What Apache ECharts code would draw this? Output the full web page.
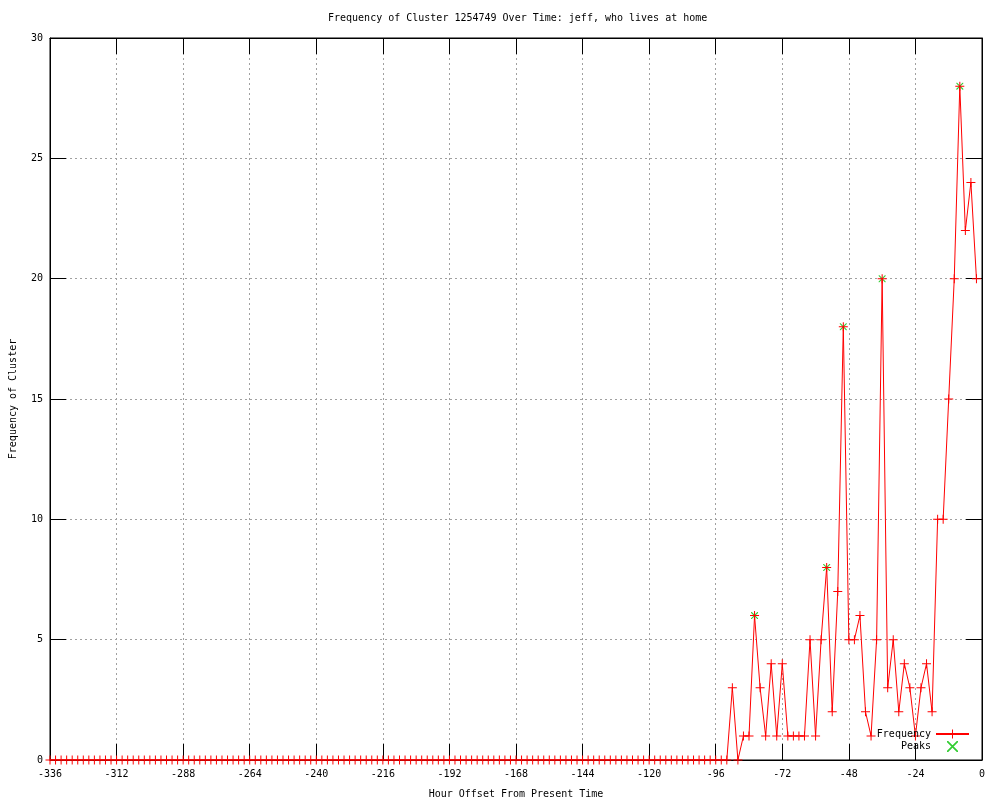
<!DOCTYPE html>
<html>
<head>
<meta charset="utf-8">
<script src="https://cdn.jsdelivr.net/npm/echarts@6/dist/echarts.min.js"></script>
<style>html,body{margin:0;padding:0;background:#fff}#c{width:1000px;height:800px}</style>
</head>
<body>
<div id="c"></div>
<script>
const titleText = 'Frequency of Cluster 1254749 Over Time: jeff, who lives at home';
const xName = 'Hour Offset From Present Time';
const yName = 'Frequency of Cluster';

const hours = [
 -336,-334,-332,-330,-328,-326,-324,-322,-320,-318,-316,-314,-312,-310,-308,-306,-304,-302,-300,-298,
 -296,-294,-292,-290,-288,-286,-284,-282,-280,-278,-276,-274,-272,-270,-268,-266,-264,-262,-260,-258,
 -256,-254,-252,-250,-248,-246,-244,-242,-240,-238,-236,-234,-232,-230,-228,-226,-224,-222,-220,-218,
 -216,-214,-212,-210,-208,-206,-204,-202,-200,-198,-196,-194,-192,-190,-188,-186,-184,-182,-180,-178,
 -176,-174,-172,-170,-168,-166,-164,-162,-160,-158,-156,-154,-152,-150,-148,-146,-144,-142,-140,-138,
 -136,-134,-132,-130,-128,-126,-124,-122,-120,-118,-116,-114,-112,-110,-108,-106,-104,-102,-100,-98,
 -96,-94,-92,-90,-88,-86,-84,-82,-80,-78,-76,-74,-72,-70,-68,-66,-64,-62,-60,-58,
 -56,-54,-52,-50,-48,-46,-44,-42,-40,-38,-36,-34,-32,-30,-28,-26,-24,-22,-20,-18,
 -16,-14,-12,-10,-8,-6,-4,-2
];
const frequency = [
 0,0,0,0,0,0,0,0,0,0,0,0,0,0,0,0,0,0,0,0,
 0,0,0,0,0,0,0,0,0,0,0,0,0,0,0,0,0,0,0,0,
 0,0,0,0,0,0,0,0,0,0,0,0,0,0,0,0,0,0,0,0,
 0,0,0,0,0,0,0,0,0,0,0,0,0,0,0,0,0,0,0,0,
 0,0,0,0,0,0,0,0,0,0,0,0,0,0,0,0,0,0,0,0,
 0,0,0,0,0,0,0,0,0,0,0,0,0,0,0,0,0,0,0,0,
 0,0,0,3,0,1,1,6,3,1,4,1,4,1,1,1,1,5,1,5,
 8,2,7,18,5,5,6,2,1,5,20,3,5,2,4,3,1,3,4,2,
 10,10,15,20,28,22,24,20
];
const peakHours = [-82, -56, -50, -36, -8];
const peakValues = [6, 8, 18, 20, 28];

const FONT = 'DejaVu Sans Mono';
const plusPath = 'path://M0,4h9v1h-9z M4,0h1v9h-1z';
const crossPath = 'path://M0,0L1,0L9,8L9,9L8,9L0,1Z M8,0L9,0L9,1L1,9L0,9L0,8Z';

function ticks() {
  return {show: true, inside: true, length: 16, lineStyle: {color: '#000', width: 1}};
}

const chart = echarts.init(document.getElementById('c'), null, {renderer: 'canvas'});
chart.setOption({
  animation: false,
  backgroundColor: '#fff',
  title: {
    text: titleText, left: 328, top: 13, padding: 0,
    textStyle: {fontFamily: FONT, fontSize: 10, fontWeight: 'normal', color: '#000'}
  },
  grid: {left: 50, right: 18, top: 38, bottom: 40, show: true, borderColor: '#000', borderWidth: 1,
         containLabel: false, outerBoundsMode: 'none'},
  legend: {
    orient: 'vertical', align: 'right', right: 30, bottom: 48, padding: 0,
    itemWidth: 33, itemHeight: 11, itemGap: 2,
    textStyle: {fontFamily: FONT, fontSize: 10, color: '#000'},
    data: ['Frequency', 'Peaks']
  },
  xAxis: [{
    type: 'value', position: 'bottom', min: -336, max: 0, interval: 24,
    name: xName, nameLocation: 'middle', nameGap: 29,
    nameTextStyle: {fontFamily: FONT, fontSize: 10, color: '#000'},
    axisLine: {show: true, onZero: false, lineStyle: {color: '#000'}},
    axisTick: ticks(),
    axisLabel: {fontFamily: FONT, fontSize: 10, color: '#000', margin: 9},
    splitLine: {show: true, lineStyle: {color: '#a0a0a0', type: [2, 3], width: 1}}
  }, {
    type: 'value', position: 'top', min: -336, max: 0, interval: 24,
    axisLine: {show: true, onZero: false, lineStyle: {color: '#000'}},
    axisTick: ticks(), axisLabel: {show: false}, splitLine: {show: false}
  }],
  yAxis: [{
    type: 'value', position: 'left', min: 0, max: 30, interval: 5,
    name: yName, nameLocation: 'middle', nameGap: 32,
    nameTextStyle: {fontFamily: FONT, fontSize: 10, color: '#000'},
    axisLine: {show: true, onZero: false, lineStyle: {color: '#000'}},
    axisTick: ticks(),
    axisLabel: {fontFamily: FONT, fontSize: 10, color: '#000', margin: 7},
    splitLine: {show: true, lineStyle: {color: '#a0a0a0', type: [2, 3], width: 1}}
  }, {
    type: 'value', position: 'right', min: 0, max: 30, interval: 5,
    axisLine: {show: true, onZero: false, lineStyle: {color: '#000'}},
    axisTick: ticks(), axisLabel: {show: false}, splitLine: {show: false}
  }],
  series: [{
    name: 'Frequency', type: 'line', xAxisIndex: 0, yAxisIndex: 0,
    data: hours.map((h, i) => [h, frequency[i]]),
    symbol: plusPath, symbolSize: 9, showSymbol: true, showAllSymbol: true,
    lineStyle: {color: '#ff0000', width: 1},
    itemStyle: {color: '#ff0000'},
    emphasis: {disabled: true}
  }, {
    name: 'Peaks', type: 'scatter', xAxisIndex: 0, yAxisIndex: 0,
    data: peakHours.map((h, i) => [h, peakValues[i]]),
    symbol: crossPath, symbolSize: 7,
    itemStyle: {color: '#00c000'},
    emphasis: {disabled: true}
  }]
});
</script>
</body>
</html>
